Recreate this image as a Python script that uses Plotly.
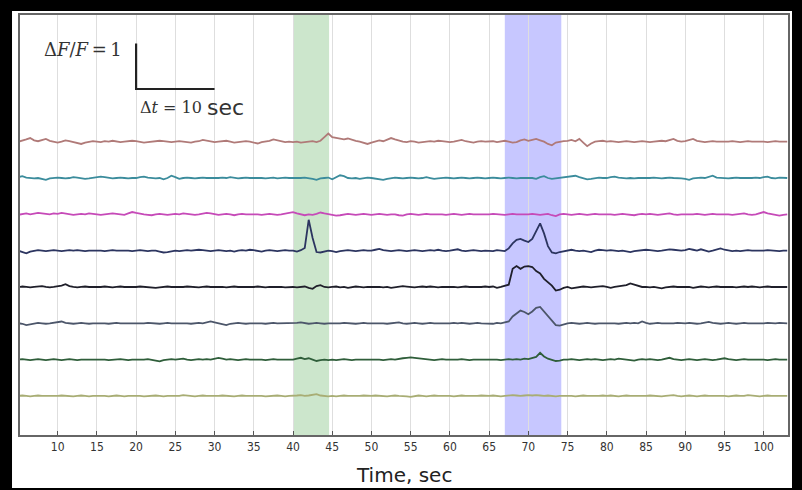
import numpy as np
import plotly.graph_objects as go

# ---- data (trace deviations in hundredths of dF/F, sampled every 0.5 s from t=5 s) ----
t_start = 5.0
dt = 0.5
offset_step = 0.8

tr1 = [0,2,5,8,3,1,4,6,2,0, -2,0,3,1,-1,-3,-5,-2,0,1, 0,-1,1,0,2,1,-1,0,1,2,
       1,0,-2,-1,0,1,2,1,0,-1, 0,1,0,-1,-2,0,1,4,2,0, -1,0,1,2,0,-2,-1,0,1,0,
       -2,-4,-1,0,2,5,3,1,-1,0, -1,0,-2,-1,0,1,-1,2,10,18, 10,8,6,5,7,4,2,0,-3,-5,
       -2,0,3,1,4,8,5,2,0,-1, 1,0,-2,-1,0,1,0,2,1,0, -1,0,2,4,1,0,-2,0,1,0,
       0,1,-1,0,2,0,-2,-1,3,5, 2,4,6,3,0,-5,-8,-2,0,1, 2,4,1,6,-2,-10,-4,0,1,2,
       0,1,0,-1,0,1,0,-1,0,1, 0,-1,0,1,2,1,4,6,2,0, 1,3,6,2,0,-1,0,1,0,0,
       -1,0,1,0,-1,0,1,0,0,1, 0,-1,0,1,0,0,0]
tr2 = [2,4,1,0,-1,0,-2,-4,-1,0, 1,0,-1,0,2,1,0,-2,-1,0, 1,3,2,0,-1,0,1,0,-1,0,
       0,2,3,1,0,-1,0,-3,0,5, 2,-2,0,1,0,-1,0,1,0,0, -1,0,1,0,2,0,-1,0,1,0,
       0,1,0,-1,0,1,-1,0,1,0, 0,-1,0,1,0,-2,-4,-1,0,1, -3,2,6,4,0,-1,0,-2,0,1,
       0,-1,-3,-4,-2,0,1,0,-1,0, 1,0,-1,0,2,0,-2,-1,0,1, 0,-1,0,1,0,-1,0,1,0,-1,
       0,1,0,-1,0,1,0,-1,0,0, 1,0,-2,2,4,0,-2,-1,0,1, 2,4,5,2,0,-3,-2,0,1,0,
       0,2,3,1,0,-1,0,-1,0,0, -1,0,1,0,-1,0,1,0,0,-1, -2,-4,-1,0,1,0,2,5,1,0,
       0,-1,0,1,0,0,-1,0,1,0, 2,3,0,-1,1,0,0]
tr3 = [-1,0,2,0,1,3,2,1,0,2, 1,3,2,0,-1,0,1,0,2,1, 0,-1,0,1,2,1,0,-1,2,5,
       3,1,0,-1,-2,0,1,0,-1,0, 1,0,2,1,0,-1,0,1,3,2, 0,-1,0,1,0,-2,0,1,0,0,
       1,0,-1,0,1,0,-1,0,2,4, 5,2,0,-2,0,-1,1,4,2,0, -1,-3,-2,0,1,0,-1,0,1,0,
       -1,0,1,0,-1,0,0,-2,-3,0, 1,0,-1,0,1,0,0,1,0,-1, 0,1,0,-1,0,1,0,0,-1,0,
       0,1,0,0,-1,0,1,0,0,-1, 0,1,0,-1,0,1,-2,-4,0,1, 0,-1,0,1,0,-1,0,1,0,0,
       1,0,-1,0,1,0,-1,-2,0,1, 0,1,0,-1,0,1,2,0,-1,0, 0,-1,0,1,0,-1,0,1,0,0,
       1,0,-1,0,1,2,0,-1,0,3, 5,2,0,-2,-3,-1,0]
tr4 = [0,-3,-6,-2,0,1,0,-1,0,1, 0,-1,0,1,0,1,0,-1,0,0, 1,0,-1,0,1,0,0,1,0,-1,
       0,1,0,-1,0,0,-2,-4,-3,-1, 0,-1,0,1,0,1,2,1,0,-1, 0,1,0,-1,0,-2,0,1,0,2,
       1,0,-2,0,1,0,-1,0,1,0, 0,-2,1,6,68,28,-3,-4,-2,0, -1,-3,-1,0,1,0,-1,0,1,0,
       0,2,4,1,0,-1,0,1,0,-1, 0,1,0,-1,0,1,0,2,0,-1, 0,1,3,0,-1,0,1,0,-1,0,
       0,-1,1,0,-1,5,16,24,26,22, 19,26,42,60,38,10,-4,-6,-3,-1, 0,2,0,-1,0,-2,-3,0,2,1,
       0,1,0,-1,0,-2,-3,-1,0,1, 2,1,0,-1,0,1,3,2,1,0, 1,4,2,0,3,1,-2,0,2,5,
       2,0,-1,0,-1,0,1,0,0,-1, 0,1,0,0,-1,0,0]
tr5 = [0,1,0,-1,0,1,2,0,-1,0, 1,3,6,2,0,-1,0,1,0,0, -1,0,1,0,-1,0,1,0,0,-1,
       0,1,0,0,-1,-2,-1,0,1,0, 0,-1,0,1,0,0,-1,0,1,0, 0,1,0,-1,0,1,0,0,-1,0,
       0,1,0,-1,0,0,1,0,-1,0, 0,-1,0,1,-2,-4,2,4,0,-1, 0,1,-1,0,-2,0,1,0,-1,0,
       0,1,0,-1,0,-2,-1,0,2,1, 0,-1,0,1,0,1,0,-1,0,0, 1,0,-1,0,1,0,0,-1,0,1,
       0,1,-2,0,2,5,40,46,40,45, 46,44,35,30,18,10,3,-8,-6,-2, 0,-3,-2,0,1,0,-1,0,1,2,
       0,-2,0,1,2,4,8,5,2,0, 0,-1,0,-2,-3,-1,0,1,0,0, -1,0,-2,0,1,0,-1,0,1,0,
       0,1,0,-1,0,1,0,1,0,-1, 0,1,0,0,-1,0,0]
tr6 = [0,-1,-4,-2,0,1,0,-1,0,1, 2,4,1,0,-1,0,1,0,-1,0, 0,1,0,-1,0,1,0,0,-1,0,
       0,-1,0,1,0,0,-1,0,1,0, 0,1,0,0,-1,0,1,0,2,4, 2,0,-2,-4,-1,0,1,0,-1,0,
       0,1,0,-1,0,1,0,0,1,0, 0,1,2,0,-1,0,1,0,-1,0, 0,-1,0,1,0,0,-1,0,1,0,
       0,1,0,0,-1,0,1,2,0,-1, 0,1,0,-1,0,1,0,0,-1,0, 0,1,0,1,0,-1,0,1,0,0,
       0,-1,1,0,2,4,15,22,28,25, 20,26,34,36,26,16,6,-4,-5,-2, 0,1,0,-1,0,1,0,-1,0,0,
       1,0,0,-1,0,1,0,1,0,4, 1,-1,0,1,0,0,-1,0,1,0, 0,1,0,-1,0,1,3,1,0,-1,
       0,1,0,-1,0,1,0,0,-1,0, 0,1,0,0,1,0,0]
tr7 = [0,1,0,-1,0,1,0,-1,0,1, 0,-1,0,1,0,-1,0,0,1,0, 0,1,0,-1,0,0,1,0,-1,0,
       0,-1,0,1,0,-2,-4,-1,0,1, 0,1,2,0,-1,0,1,0,1,0, 2,4,2,0,1,0,-1,0,1,0,
       0,1,0,-1,0,1,0,0,-1,0, 0,2,4,1,3,0,-3,-1,0,-1, 0,-1,0,1,0,-1,0,0,1,0,
       0,1,0,-1,0,1,0,2,3,4, 5,4,3,2,1,0,-1,0,1,0, 0,-1,0,1,0,-1,0,0,1,0,
       0,1,0,-1,0,1,0,1,0,2, 1,3,6,15,7,2,-1,-3,-2,0, 0,1,0,-1,0,1,0,1,0,-1,
       0,1,0,2,1,0,-1,-2,0,1, 0,1,0,-1,0,2,4,1,0,-1, 0,1,0,-1,0,1,0,-1,0,2,
       3,1,0,-1,0,1,0,0,1,0, 0,-1,0,1,0,0,0]
tr8 = [0,1,0,-1,0,1,0,0,-1,0, 0,1,0,0,-1,0,1,0,-1,0, 0,1,0,-1,0,1,0,-1,0,0,
       1,0,-1,0,0,1,0,-1,0,0, 1,0,2,1,0,-1,0,1,0,0, -1,0,1,0,0,-1,0,1,0,0,
       0,1,0,-1,0,0,1,0,-1,0, 0,1,2,0,1,3,4,1,0,-1, 0,-1,0,1,0,0,-1,0,1,0,
       0,1,0,0,-1,0,1,0,0,-1, -2,0,1,0,-1,0,1,0,0,1, 0,-1,0,1,0,0,-1,0,1,0,
       0,1,0,-1,0,1,2,1,0,1, 2,1,2,1,0,1,0,-1,0,0, 1,0,-1,0,1,0,0,-1,0,1,
       0,1,0,-1,0,1,0,0,-1,0, 0,1,0,0,-1,0,1,2,0,-1, 0,1,0,-1,0,1,0,0,1,0,
       0,-1,0,1,0,0,2,1,0,-1, 0,1,0,0,-1,0,0]

traces_hundredths = [tr1, tr2, tr3, tr4, tr5, tr6, tr7, tr8]
trace_colors = ["#b07a78", "#3b8c9c", "#c64ab8", "#2c3560",
                "#1f1f2a", "#4c566a", "#2f5e3a", "#a8ad74"]

green_band = [40, 44.6]
blue_band = [67, 74.2]
x_ticks = list(range(10, 101, 5))

bar_t = [20, 20, 30]
bar_y = [7.76, 6.76, 6.76]

# ---- figure ----
fig = go.Figure()
n = len(traces_hundredths)
for i, (vals, col) in enumerate(zip(traces_hundredths, trace_colors)):
    v = np.array(vals, dtype=float) / 100.0
    t = t_start + dt * np.arange(len(v))
    base = offset_step * (n - 1 - i)
    fig.add_trace(go.Scatter(x=t, y=v + base, mode="lines",
                             line=dict(color=col, width=1.8), hoverinfo="skip",
                             showlegend=False))

fig.add_trace(go.Scatter(x=bar_t, y=bar_y, mode="lines",
                         line=dict(color="#222222", width=2.2), showlegend=False,
                         hoverinfo="skip"))

shapes = [
    dict(type="rect", xref="paper", yref="paper", x0=-0.0104, x1=1.0052,
         y0=-0.126, y1=1.0095, fillcolor="white", line_width=0, layer="below"),
    dict(type="rect", xref="x", yref="paper", x0=green_band[0], x1=green_band[1],
         y0=0, y1=1, fillcolor="rgba(0,128,0,0.2)", line_width=0, layer="below"),
    dict(type="rect", xref="x", yref="paper", x0=blue_band[0], x1=blue_band[1],
         y0=0, y1=1, fillcolor="rgba(0,0,255,0.22)", line_width=0, layer="below"),
]

annotations = [
    dict(xref="paper", yref="paper", x=0.1355, y=0.9167, xanchor="right", yanchor="middle",
         text="Δ<i>F</i>/<i>F</i>\u2009=\u20091", showarrow=False,
         font=dict(family="DejaVu Serif", size=18, color="#333333")),
    dict(xref="paper", yref="paper", x=0.1532, y=0.7786, xanchor="left", yanchor="middle",
         text="Δ<i>t</i> = 10", showarrow=False,
         font=dict(family="DejaVu Serif", size=16, color="#333333")),
    dict(xref="paper", yref="paper", x=0.2403, y=0.7786, xanchor="left", yanchor="middle",
         text="sec", showarrow=False,
         font=dict(family="DejaVu Sans", size=22, color="#333333")),
    dict(xref="paper", yref="paper", x=0.5, y=-0.095, xanchor="center", yanchor="middle",
         text="Time, sec", showarrow=False,
         font=dict(family="DejaVu Sans", size=20, color="#222222")),
]

fig.update_layout(
    width=802, height=490,
    margin=dict(l=20, r=12, t=15, b=55),
    paper_bgcolor="black", plot_bgcolor="white",
    shapes=shapes, annotations=annotations,
    xaxis=dict(range=[5.2, 103.1], tickvals=x_ticks, ticktext=[str(v) for v in x_ticks],
               showgrid=True, gridcolor="#dedede", gridwidth=1,
               showline=True, mirror=True, linecolor="#666666", linewidth=1.5,
               ticks="inside", ticklen=4, tickcolor="#555555", zeroline=False,
               tickfont=dict(family="DejaVu Sans Condensed", size=12, color="#333333")),
    yaxis=dict(range=[-0.86, 8.39], showticklabels=False, showgrid=False, zeroline=False,
               showline=True, mirror=True, linecolor="#666666", linewidth=1.5, ticks=""),
)

fig.write_html("out.html", config={"displayModeBar": False},
               post_script="document.body.style.margin='0';document.body.style.background='black';")
